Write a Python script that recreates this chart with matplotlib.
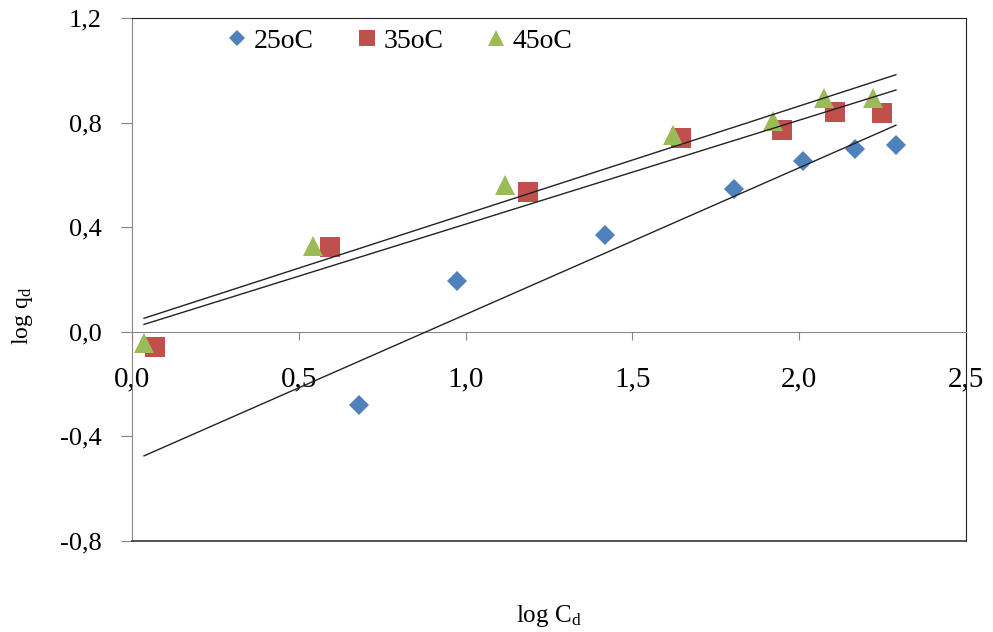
import numpy as np
import matplotlib
matplotlib.use("Agg")
import matplotlib.pyplot as plt

plt.rcParams['font.family'] = ['Liberation Serif', 'DejaVu Serif']
plt.rcParams['mathtext.fontset'] = 'custom'
plt.rcParams['mathtext.rm'] = 'Liberation Serif'
plt.rcParams['mathtext.it'] = 'Liberation Serif:italic'

# log Cd / log qd
x25 = [0.680, 0.973, 1.419, 1.805, 2.012, 2.168, 2.290]
y25 = [-0.279, 0.195, 0.371, 0.547, 0.654, 0.700, 0.715]
x35 = [0.069, 0.593, 1.186, 1.647, 1.949, 2.108, 2.249]
y35 = [-0.057, 0.325, 0.535, 0.742, 0.772, 0.841, 0.837]
x45 = [0.036, 0.542, 1.117, 1.623, 1.922, 2.075, 2.222]
y45 = [-0.042, 0.329, 0.562, 0.753, 0.807, 0.895, 0.895]

labels = ['25oC', '35oC', '45oC']
xticks = [0.0, 0.5, 1.0, 1.5, 2.0, 2.5]
yticks = [-0.8, -0.4, 0.0, 0.4, 0.8, 1.2]

series = [(x25, y25, 'D', 10.5, '#4F81BD'),
          (x35, y35, 's', 14, '#C0504D'),
          (x45, y45, '^', 15, '#9BBB59')]

fig = plt.figure(figsize=(9.93, 6.32), dpi=100)
ax = fig.add_axes([132/993, 91/632, 834/993, 523/632])

# trend lines over the overall x range
xall = np.concatenate([x25, x35, x45])
xl = np.array([xall.min(), xall.max()])
for xs, ys, *_ in series:
    m, b = np.polyfit(xs, ys, 1)
    ax.plot(xl, m*xl + b, color='#222222', lw=1.0, zorder=3)

for (xs, ys, mk, ms, c), lab in zip(series, labels):
    ax.plot(xs, ys, linestyle='none', marker=mk, ms=ms, color=c,
            markeredgewidth=0, label=lab, zorder=2)

ax.spines['bottom'].set_position(('data', 0))
ax.spines['bottom'].set_color('#868686')
ax.spines['left'].set_color('#868686')
ax.spines['top'].set_color('#222222')
ax.spines['right'].set_color('#222222')
ax.plot([0, 1], [0, 0], transform=ax.transAxes, color='#333333', lw=1.2,
        clip_on=False, zorder=5)

ax.set_xlim(0, 2.5)
ax.set_ylim(-0.8, 1.2)
ax.set_xticks(xticks)
ax.set_yticks(yticks)
ax.set_xticklabels([f'{v:.1f}'.replace('.', ',') for v in xticks])
ax.set_yticklabels([f'{v:.1f}'.replace('.', ',') for v in yticks])
ax.tick_params(axis='x', direction='out', length=6, pad=19, color='#868686',
               labelsize=21)
ax.tick_params(axis='y', direction='out', length=8, pad=14, color='#868686',
               labelsize=19)

ax.set_xlabel(r'log C$_{\rm d}$', fontsize=18)
ax.xaxis.set_label_coords(0.5, -0.119)
ax.set_ylabel(r'log q$_{\rm d}$', fontsize=17)
ax.yaxis.set_label_coords(-0.116, 0.43)

ax.legend(loc='center left', bbox_to_anchor=(0.116, 0.956), ncol=3,
          frameon=False, borderaxespad=0, borderpad=0,
          fontsize=20, markerscale=0.8, handlelength=0.6, handletextpad=0.3,
          columnspacing=1.6)

fig.savefig('out.png', dpi=100)
